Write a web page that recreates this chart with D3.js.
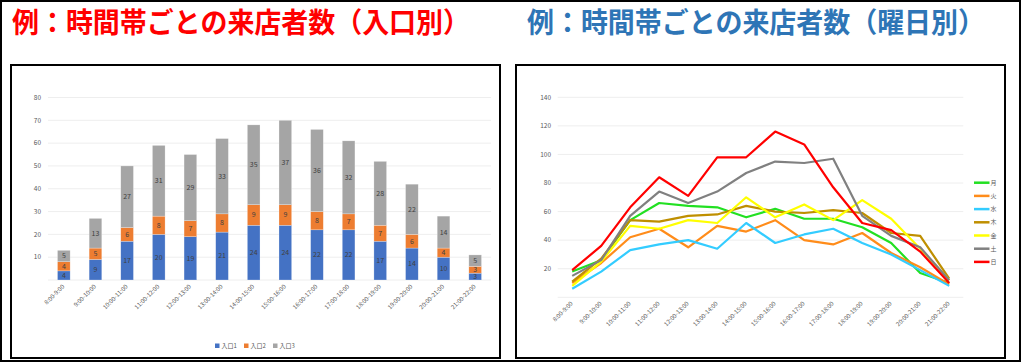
<!DOCTYPE html>
<html>
<head>
<meta charset="utf-8">
<script src="https://cdn.jsdelivr.net/npm/d3@7"></script>
<style>
  body { margin: 0; background: #fff; }
  svg { display: block; font-family: "Noto Sans CJK JP", "Noto Sans", sans-serif; }
</style>
</head>
<body>
<div id="chart"></div>
<script>
// time slots shared by both charts
const hours = ['8:00-9:00', '9:00-10:00', '10:00-11:00', '11:00-12:00', '12:00-13:00', '13:00-14:00',
    '14:00-15:00', '15:00-16:00', '16:00-17:00', '17:00-18:00', '18:00-19:00', '19:00-20:00',
    '20:00-21:00', '21:00-22:00'];

// left chart: visitors per entrance
const entranceNames = ['入口1', '入口2', '入口3'];
const entrance1 = [4, 9, 17, 20, 19, 21, 24, 24, 22, 22, 17, 14, 10, 3];
const entrance2 = [4, 5, 6, 8, 7, 8, 9, 9, 8, 7, 7, 6, 4, 3];
const entrance3 = [5, 13, 27, 31, 29, 33, 35, 37, 36, 32, 28, 22, 14, 5];
const leftTicks = [10, 20, 30, 40, 50, 60, 70, 80];

// right chart: visitors per weekday
const weekdayNames = ['月', '火', '水', '木', '金', '土', '日'];
const mon = [18, 26, 54, 66, 64, 63, 56, 62, 55, 55, 49, 38, 17, 10];
const tue = [10, 24, 42, 48, 35, 50, 46, 54, 40, 37, 45, 31, 21, 9];
const wed = [6, 18, 33, 37, 40, 34, 52, 38, 44, 48, 38, 30, 19, 8];
const thu = [11, 27, 54, 53, 57, 58, 64, 60, 59, 61, 59, 45, 43, 13];
const fri = [8, 25, 50, 48, 54, 52, 70, 56, 65, 54, 68, 55, 34, 12];
const sat = [15, 26, 57, 74, 66, 74, 87, 95, 94, 97, 57, 43, 35, 12];
const sun = [19, 36, 63, 84, 71, 98, 98, 116, 107, 77, 52, 47, 32, 10];
const rightTicks = [20, 40, 60, 80, 100, 120, 140];

const W = 1021, H = 362;
const svg = d3.select('#chart').append('svg')
    .attr('width', W)
    .attr('height', H);

svg.append('rect')
    .attr('x', 1).attr('y', 1)
    .attr('width', W - 2).attr('height', H - 2)
    .attr('fill', '#fff')
    .attr('stroke', '#000')
    .attr('stroke-width', 2);

// titles
svg.append('text')
    .attr('x', 12).attr('y', 33)
    .attr('font-size', 28).attr('font-weight', 'bold')
    .attr('fill', '#ff0000')
    .attr('textLength', 458).attr('lengthAdjust', 'spacingAndGlyphs')
    .text('例：時間帯ごとの来店者数（入口別）');
svg.append('text')
    .attr('x', 527).attr('y', 33)
    .attr('font-size', 28).attr('font-weight', 'bold')
    .attr('fill', '#2e75b6')
    .attr('textLength', 458).attr('lengthAdjust', 'spacingAndGlyphs')
    .text('例：時間帯ごとの来店者数（曜日別）');

// chart frames
[[11, 65], [516, 65]].forEach(([fx, fy]) => {
    svg.append('rect')
        .attr('x', fx).attr('y', fy)
        .attr('width', 489).attr('height', 293)
        .attr('fill', '#fff')
        .attr('stroke', '#000')
        .attr('stroke-width', 2);
});

const axisColor = '#595959';
const labelColor = '#404040';
const gridColor = '#eeeeee';

// ---------- left: stacked bars ----------
const left = svg.append('g');
const xL = d3.scaleBand().domain(hours).range([48, 491]).paddingInner(0.6).paddingOuter(0.3);
const yL = d3.scaleLinear().domain([0, 80]).range([280, 97.5]);

left.append('g').selectAll('line')
    .data([0].concat(leftTicks))
    .join('line')
    .attr('x1', 48).attr('x2', 491)
    .attr('y1', d => yL(d)).attr('y2', d => yL(d))
    .attr('stroke', gridColor).attr('stroke-width', 1);

left.append('g').selectAll('text')
    .data(leftTicks)
    .join('text')
    .attr('x', 41).attr('y', d => yL(d))
    .attr('dy', '0.35em')
    .attr('text-anchor', 'end')
    .attr('font-size', 6.5)
    .attr('fill', axisColor)
    .text(d => d);

const stackRows = hours.map((h, i) => ({ hour: h, e1: entrance1[i], e2: entrance2[i], e3: entrance3[i] }));
const stacked = d3.stack().keys(['e1', 'e2', 'e3'])(stackRows);
const barColors = ['#4472c4', '#ed7d31', '#a5a5a5'];

const layers = left.append('g').selectAll('g')
    .data(stacked)
    .join('g')
    .attr('fill', (d, i) => barColors[i]);

layers.selectAll('rect')
    .data(d => d)
    .join('rect')
    .attr('x', d => xL(d.data.hour))
    .attr('width', xL.bandwidth())
    .attr('y', d => yL(d[1]))
    .attr('height', d => yL(d[0]) - yL(d[1]))
    .attr('stroke', '#ffffff')
    .attr('stroke-opacity', 0.5)
    .attr('stroke-width', 0.5);

layers.selectAll('text')
    .data(d => d)
    .join('text')
    .attr('x', d => xL(d.data.hour) + xL.bandwidth() / 2)
    .attr('y', d => (yL(d[0]) + yL(d[1])) / 2)
    .attr('dy', '0.35em')
    .attr('text-anchor', 'middle')
    .attr('font-size', 7)
    .attr('fill', labelColor)
    .text(d => d[1] - d[0]);

left.append('g').selectAll('text')
    .data(hours)
    .join('text')
    .attr('transform', d => `translate(${xL(d) + xL.bandwidth() / 2 + 1},${287}) rotate(-45)`)
    .attr('text-anchor', 'end')
    .attr('font-size', 6)
    .attr('fill', axisColor)
    .text(d => d);

// legend
const legL = left.append('g').selectAll('g')
    .data(entranceNames)
    .join('g')
    .attr('transform', (d, i) => `translate(${215 + i * 29},346)`);
legL.append('rect')
    .attr('x', 0).attr('y', -2.5)
    .attr('width', 4.5).attr('height', 4.5)
    .attr('fill', (d, i) => barColors[i]);
legL.append('text')
    .attr('x', 6.5).attr('dy', '0.35em')
    .attr('font-size', 6)
    .attr('fill', axisColor)
    .text(d => d);

// ---------- right: lines ----------
const right = svg.append('g');
const xR = d3.scalePoint().domain(hours).range([572.2, 949.2]);
const yR = d3.scaleLinear().domain([0, 140]).range([297.3, 97.3]);

right.append('g').selectAll('line')
    .data([0].concat(rightTicks))
    .join('line')
    .attr('x1', 557.7).attr('x2', 963.3)
    .attr('y1', d => yR(d)).attr('y2', d => yR(d))
    .attr('stroke', gridColor).attr('stroke-width', 1);

right.append('g').selectAll('text')
    .data(rightTicks)
    .join('text')
    .attr('x', 551).attr('y', d => yR(d))
    .attr('dy', '0.35em')
    .attr('text-anchor', 'end')
    .attr('font-size', 6.5)
    .attr('fill', axisColor)
    .text(d => d);

right.append('g').selectAll('text')
    .data(hours)
    .join('text')
    .attr('transform', d => `translate(${xR(d) + 1},${304}) rotate(-45)`)
    .attr('text-anchor', 'end')
    .attr('font-size', 6)
    .attr('fill', axisColor)
    .text(d => d);

const weekSeries = [mon, tue, wed, thu, fri, sat, sun];
const lineColors = ['#22e022', '#ff8c1a', '#33ccff', '#bf8f00', '#ffff00', '#808080', '#ff0000'];
const line = d3.line()
    .x((d, i) => xR(hours[i]))
    .y(d => yR(d));

right.append('g').selectAll('path')
    .data(weekSeries)
    .join('path')
    .attr('d', d => line(d))
    .attr('fill', 'none')
    .attr('stroke', (d, i) => lineColors[i])
    .attr('stroke-width', 2.2)
    .attr('stroke-linejoin', 'round');

const legR = right.append('g').selectAll('g')
    .data(weekdayNames)
    .join('g')
    .attr('transform', (d, i) => `translate(974,${182.7 + i * 13.2})`);
legR.append('line')
    .attr('x1', 0).attr('x2', 15.5)
    .attr('stroke', (d, i) => lineColors[i])
    .attr('stroke-width', 2.5);
legR.append('text')
    .attr('x', 16.5).attr('dy', '0.35em')
    .attr('font-size', 6)
    .attr('fill', axisColor)
    .text(d => d);
</script>
</body>
</html>
